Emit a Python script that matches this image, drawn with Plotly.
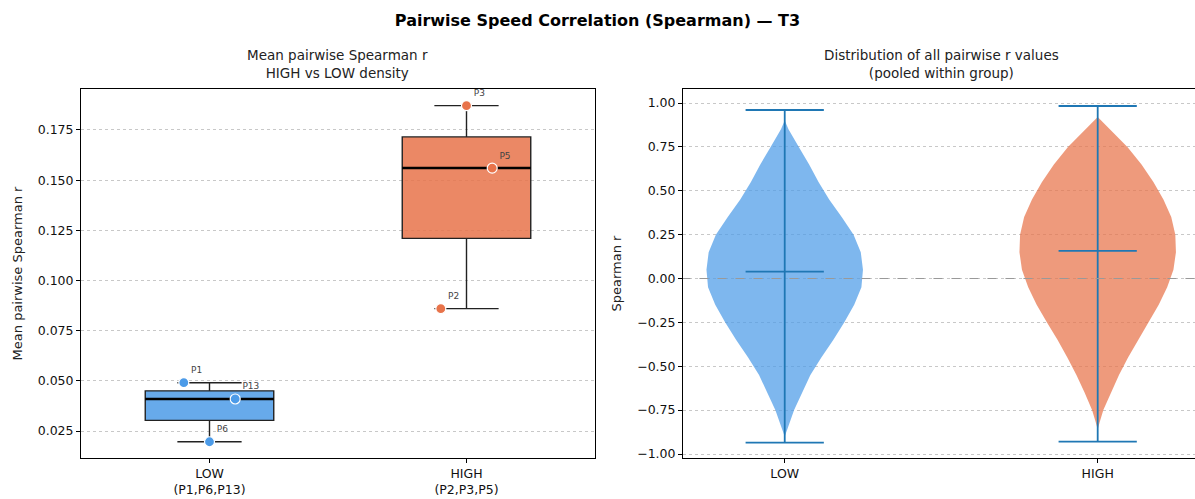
import numpy as np
import plotly.graph_objects as go

# ---------------- data ----------------
GROUPS = ["LOW", "HIGH"]
GROUP_TICKS = ["LOW<br>(P1,P6,P13)", "HIGH<br>(P2,P3,P5)"]
LOW_NAMES = ["P1", "P6", "P13"]
LOW_VALUES = [0.0491, 0.0197, 0.0410]
HIGH_NAMES = ["P2", "P3", "P5"]
HIGH_VALUES = [0.0860, 0.1871, 0.1560]
POINT_OFFSETS = [-0.1, 0.0, 0.1]

# violin density profile (r value, half-width in category units)
LOW_R = [0.90, 0.85, 0.75, 0.65, 0.55, 0.45, 0.35, 0.25, 0.15, 0.05, -0.05, -0.15,
         -0.25, -0.35, -0.45, -0.55, -0.65, -0.75, -0.85, -0.90]
LOW_W = [0.0, 0.012, 0.045, 0.078, 0.108, 0.142, 0.182, 0.220, 0.243, 0.250, 0.245,
         0.222, 0.190, 0.155, 0.117, 0.082, 0.056, 0.030, 0.010, 0.0]
HIGH_R = [0.92, 0.85, 0.75, 0.65, 0.55, 0.45, 0.35, 0.25, 0.15, 0.05, -0.05, -0.15,
          -0.25, -0.35, -0.45, -0.55, -0.65, -0.75, -0.82, -0.86]
HIGH_W = [0.0, 0.040, 0.095, 0.140, 0.178, 0.210, 0.235, 0.248, 0.250, 0.242, 0.222,
          0.195, 0.162, 0.128, 0.097, 0.068, 0.042, 0.018, 0.006, 0.0]
VIOLIN_MIN = [-0.935, -0.930]
VIOLIN_MAX = [0.960, 0.983]
VIOLIN_MEAN = [0.039, 0.157]

# ---------------- style ----------------
FONT = "DejaVu Sans"
BLUE = "#4C9BE8"
ORANGE = "#E8734A"
BLUE_BOX = "rgba(76,155,232,0.85)"
ORANGE_BOX = "rgba(232,115,74,0.85)"
BLUE_VIO = "rgba(76,155,232,0.72)"
ORANGE_VIO = "rgba(232,115,74,0.72)"
VLINE = "#1f77b4"

fig = go.Figure()

# ---------------- left: boxes ----------------
groups = [(0, LOW_NAMES, LOW_VALUES, BLUE, BLUE_BOX), (1, HIGH_NAMES, HIGH_VALUES, ORANGE, ORANGE_BOX)]
for pos, names, vals, col, boxcol in groups:
    fig.add_trace(go.Box(
        x=[pos] * len(vals), y=vals, width=0.5, whiskerwidth=0.5,
        quartilemethod="inclusive", boxpoints=False, fillcolor=boxcol,
        line=dict(color="#222222", width=1.4), xaxis="x", yaxis="y",
        showlegend=False, hoverinfo="skip"))
    med = float(np.median(vals))
    fig.add_trace(go.Scatter(
        x=[pos - 0.25, pos + 0.25], y=[med, med], mode="lines",
        line=dict(color="black", width=2.5), xaxis="x", yaxis="y",
        showlegend=False, hoverinfo="skip"))
    fig.add_trace(go.Scatter(
        x=[pos + o for o in POINT_OFFSETS], y=vals, mode="markers+text",
        text=names, textposition="top right",
        textfont=dict(family=FONT, size=9, color="#444444"),
        marker=dict(color=col, size=10, line=dict(color="white", width=1.2)),
        xaxis="x", yaxis="y", showlegend=False, cliponaxis=False))

# ---------------- right: violins ----------------
vgroups = [(0, LOW_R, LOW_W, BLUE_VIO), (1, HIGH_R, HIGH_W, ORANGE_VIO)]
for i, (pos, rr, ww, fc) in enumerate(vgroups):
    rr = np.array(rr)
    ww = np.array(ww)
    xs = np.concatenate([pos + ww, (pos - ww)[::-1]])
    ys = np.concatenate([rr, rr[::-1]])
    fig.add_trace(go.Scatter(
        x=xs, y=ys, mode="lines", fill="toself", fillcolor=fc,
        line=dict(width=0, color=fc), xaxis="x2", yaxis="y2",
        showlegend=False, hoverinfo="skip"))
    lo, hi, mu = VIOLIN_MIN[i], VIOLIN_MAX[i], VIOLIN_MEAN[i]
    cap = 0.125
    fig.add_trace(go.Scatter(
        x=[pos, pos, None, pos - cap, pos + cap, None, pos - cap, pos + cap, None,
           pos - cap, pos + cap],
        y=[lo, hi, None, lo, lo, None, hi, hi, None, mu, mu],
        mode="lines", line=dict(color=VLINE, width=1.8),
        xaxis="x2", yaxis="y2", showlegend=False, hoverinfo="skip"))

# zero reference line
fig.add_trace(go.Scatter(
    x=[-0.33, 1.33], y=[0, 0], mode="lines",
    line=dict(color="#999999", width=1, dash="dash"),
    xaxis="x2", yaxis="y2", showlegend=False, hoverinfo="skip"))

axis_common = dict(
    showline=True, linecolor="black", linewidth=1, ticks="outside",
    ticklen=4, tickcolor="black", tickfont=dict(family=FONT, size=12.5, color="#111111"),
    zeroline=False)

fig.update_layout(
    width=1195, height=499,
    margin=dict(l=81, r=0, t=89, b=41),
    plot_bgcolor="white", paper_bgcolor="white",
    font=dict(family=FONT, color="#222222"),
    title=dict(text="<b>Pairwise Speed Correlation (Spearman) — T3</b>",
               x=0.5, xanchor="center", y=0.96, yanchor="middle",
               font=dict(family=FONT, size=16, color="black")),
    xaxis=dict(domain=[0, 0.4614], range=[-0.5, 1.5], tickvals=[0, 1],
               ticktext=GROUP_TICKS, showgrid=False, mirror=True, **axis_common),
    yaxis=dict(range=[0.0116, 0.1954], tickvals=[0.025, 0.05, 0.075, 0.1, 0.125, 0.15, 0.175],
               tickformat=".3f", showgrid=True, gridcolor="#c8c8c8", griddash="dot",
               gridwidth=0.8, mirror=True,
               title=dict(text="Mean pairwise Spearman r", standoff=12,
                          font=dict(family=FONT, size=13)),
               **axis_common),
    xaxis2=dict(domain=[0.5404, 1.0], range=[-0.325, 1.3109], tickvals=[0, 1],
                ticktext=GROUPS, showgrid=False, mirror=True, anchor="y2", **axis_common),
    yaxis2=dict(range=[-1.0228, 1.0798], tickvals=[-1, -0.75, -0.5, -0.25, 0, 0.25, 0.5, 0.75, 1],
                tickformat=".2f", showgrid=True, gridcolor="#c8c8c8", griddash="dot",
                gridwidth=0.8, anchor="x2", mirror=False,
                title=dict(text="Spearman r", standoff=12, font=dict(family=FONT, size=13)),
                **axis_common),
    annotations=[
        dict(text="Mean pairwise Spearman r<br>HIGH vs LOW density", xref="paper", yref="paper",
             x=0.4614 / 2, y=1.0, xanchor="center", yanchor="bottom", yshift=6, showarrow=False,
             font=dict(family=FONT, size=13.5, color="#222222")),
        dict(text="Distribution of all pairwise r values<br>(pooled within group)", xref="paper",
             yref="paper", x=(0.5404 + 1.0036) / 2, y=1.0, xanchor="center", yanchor="bottom",
             yshift=6, showarrow=False, font=dict(family=FONT, size=13.5, color="#222222")),
    ],
)

fig.write_html("out.html")
